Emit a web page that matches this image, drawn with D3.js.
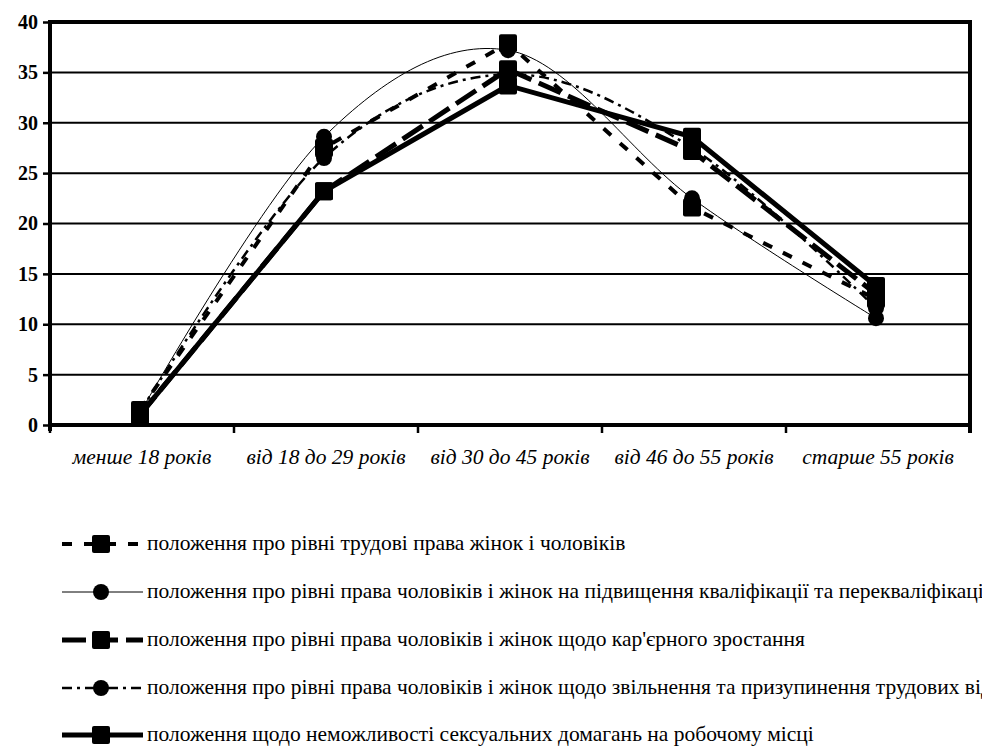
<!DOCTYPE html>
<html><head><meta charset="utf-8">
<script src="https://cdn.jsdelivr.net/npm/d3@7"></script>
<style>body{margin:0;background:#fff}svg{display:block}</style>
</head><body>
<svg id="c" width="982" height="747"></svg>
<script>
const categories = ["менше 18 років","від 18 до 29 років","від 30 до 45 років","від 46 до 55 років","старше 55 років"];
const seriesNames = [
 "положення про рівні трудові права жінок і чоловіків",
 "положення про рівні права чоловіків і жінок на підвищення кваліфікації та перекваліфікації",
 "положення про рівні права чоловіків і жінок щодо кар'єрного зростання",
 "положення про рівні права чоловіків і жінок щодо звільнення та призупинення трудових відносин",
 "положення щодо неможливості сексуальних домагань на робочому місці"
];
const s1 = [1.5, 27.5, 37.9, 21.6, 12.5];
const s2 = [1.2, 28.6, 37.2, 22.5, 10.6];
const s3 = [1.0, 23.2, 35.3, 27.2, 13.0];
const s4 = [1.3, 26.5, 34.8, 27.5, 11.6];
const s5 = [1.0, 23.2, 33.7, 28.6, 13.8];
const yTicks = [0,5,10,15,20,25,30,35,40];

const styles = [
 {w:4, dash:"10,12", marker:"square", smooth:false},
 {w:1, dash:null, marker:"circle", smooth:true},
 {w:5, dash:"24,8", marker:"square", smooth:false},
 {w:2.5, dash:"10,5,3,5", marker:"circle", smooth:true},
 {w:5, dash:null, marker:"square", smooth:false}
];
const data = [s1,s2,s3,s4,s5];
const FONT = "Liberation Serif";

const svg = d3.select("#c");
const L=50, R=970, T=22, B=425;
const x = d3.scaleBand().domain(categories).range([L,R]);
const y = d3.scaleLinear().domain([0,40]).range([B,T]);

svg.append("g").selectAll("line").data(yTicks.filter(t=>t>0&&t<40)).join("line")
 .attr("x1",L).attr("x2",R).attr("y1",d=>y(d)).attr("y2",d=>y(d))
 .attr("stroke","#000").attr("stroke-width",2);

const ya = svg.append("g").attr("transform",`translate(${L},0)`)
 .call(d3.axisLeft(y).tickValues(yTicks).tickSize(7).tickPadding(5));
ya.attr("font-family",null);
ya.select(".domain").remove();
ya.selectAll(".tick line").attr("stroke","#000").attr("stroke-width",2.5);
ya.selectAll("text").attr("font-family",FONT).attr("font-weight","bold")
 .attr("font-size",20).attr("fill","#000");

const xa = svg.append("g").attr("transform",`translate(0,${B})`)
 .call(d3.axisBottom(x).tickSize(0).tickPadding(24));
xa.attr("font-family",null);
xa.select(".domain").remove();
xa.selectAll("text").attr("font-family",FONT).attr("font-style","italic")
 .attr("font-size",21.5).attr("fill","#000");
const bounds = categories.map(c=>x(c)).concat([R]);
svg.append("g").selectAll("line").data(bounds).join("line")
 .attr("x1",d=>d).attr("x2",d=>d).attr("y1",B).attr("y2",B+8)
 .attr("stroke","#000").attr("stroke-width",2.5);

svg.append("line").attr("x1",L-2).attr("x2",R+2).attr("y1",T).attr("y2",T).attr("stroke","#000").attr("stroke-width",4);
svg.append("line").attr("x1",L-2).attr("x2",R+2).attr("y1",B).attr("y2",B).attr("stroke","#000").attr("stroke-width",4);
svg.append("line").attr("x1",L).attr("x2",L).attr("y1",T).attr("y2",B+6).attr("stroke","#000").attr("stroke-width",4);
svg.append("line").attr("x1",R).attr("x2",R).attr("y1",T).attr("y2",B+8).attr("stroke","#000").attr("stroke-width",4);

function drawMarker(g, type, cx, cy){
 if(type==="square") g.append("rect").attr("x",cx-9).attr("y",cy-9).attr("width",18).attr("height",18).attr("rx",2).attr("fill","#000");
 else g.append("circle").attr("cx",cx).attr("cy",cy).attr("r",8).attr("fill","#000");
}

const cx = c => x(c)+x.bandwidth()/2 - 2;
data.forEach((vals,i)=>{
 const st = styles[i];
 const pts = vals.map((v,j)=>[cx(categories[j]), y(v)]);
 const line = d3.line().curve(st.smooth? d3.curveCardinal.tension(0) : d3.curveLinear);
 const g = svg.append("g");
 g.append("path").attr("d",line(pts)).attr("fill","none").attr("stroke","#000")
  .attr("stroke-width",st.w).attr("stroke-dasharray",st.dash);
 pts.forEach(p=>drawMarker(g, st.marker, p[0], p[1]));
});

const legY = [544,592,640,688,735];
seriesNames.forEach((name,i)=>{
 const st = styles[i];
 const g = svg.append("g");
 g.append("line").attr("x1",62).attr("x2",143).attr("y1",legY[i]).attr("y2",legY[i])
  .attr("stroke","#000").attr("stroke-width",st.w).attr("stroke-dasharray",st.dash);
 drawMarker(g, st.marker, 101, legY[i]);
 g.append("text").attr("x",147).attr("y",legY[i]+6).text(name)
  .attr("font-family",FONT).attr("font-size",21.5).attr("fill","#000");
});
</script>
</body></html>
